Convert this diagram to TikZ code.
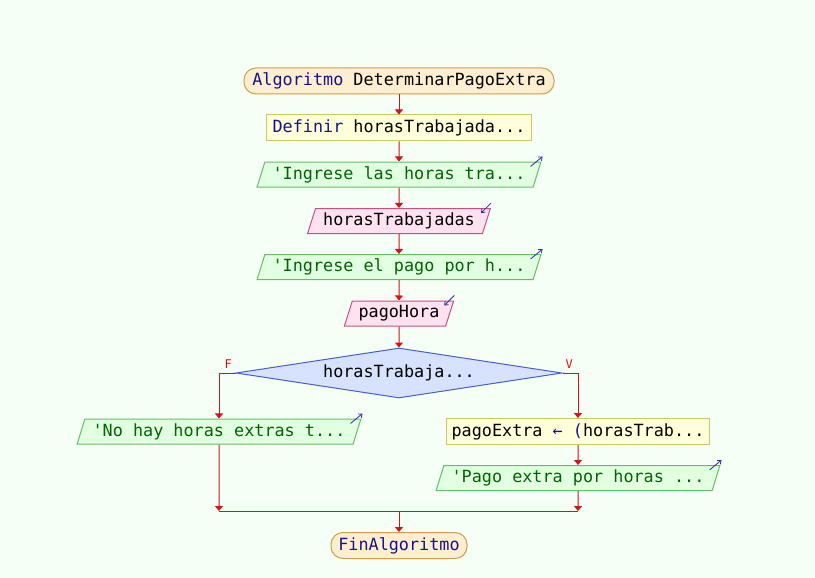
\documentclass[tikz,border=0pt]{standalone}
\usepackage{fontspec}
\setmonofont{DejaVu Sans Mono}
\usetikzlibrary{shapes.geometric,arrows.meta}
\definecolor{bgcol}{RGB}{246,255,246}
\definecolor{kwblue}{RGB}{20,20,140}
\definecolor{flowred}{RGB}{210,20,20}
\definecolor{termfill}{RGB}{255,238,208}
\definecolor{termdraw}{RGB}{208,158,80}
\definecolor{procfill}{RGB}{255,255,218}
\definecolor{procdraw}{RGB}{208,200,90}
\definecolor{outfill}{RGB}{226,255,226}
\definecolor{outdraw}{RGB}{100,190,100}
\definecolor{outtext}{RGB}{0,100,0}
\definecolor{infill}{RGB}{255,226,240}
\definecolor{indraw}{RGB}{200,80,130}
\definecolor{decfill}{RGB}{214,226,255}
\definecolor{decdraw}{RGB}{70,95,205}
\definecolor{iconblue}{RGB}{40,40,170}
\begin{document}
\begin{tikzpicture}[
x=1pt,y=-1pt,
every node/.style={font=\ttfamily\fontsize{16.8}{20}\selectfont,inner sep=2pt},
term/.style={rectangle,rounded corners=12pt,draw=termdraw,fill=termfill,text=kwblue,line width=1pt,minimum height=26},
procbox/.style={rectangle,draw=procdraw,fill=procfill,line width=1pt,minimum height=26},
outbox/.style={trapezium,trapezium left angle=70,trapezium right angle=110,trapezium stretches=true,
  draw=outdraw,fill=outfill,text=outtext,line width=1pt,minimum height=25,minimum width=284},
inbox/.style={trapezium,trapezium left angle=70,trapezium right angle=110,trapezium stretches=true,
  draw=indraw,fill=infill,line width=1pt,minimum height=25},
decision/.style={diamond,aspect=6.5,draw=decdraw,fill=decfill,line width=1pt,minimum width=326,minimum height=50,inner sep=0pt},
flow/.style={draw=flowred,line width=1pt,-{Triangle[width=8pt,length=5pt]}},
icon/.style={draw=iconblue,line width=0.8pt,-{Straight Barb[length=3pt,width=5pt]}},
branch/.style={font=\ttfamily\fontsize{12}{14}\selectfont,text=flowred,inner sep=1pt}
]
\fill[bgcol] (0,0) rectangle (815,578);
\useasboundingbox (0,0) rectangle (815,578);

\node[term,minimum width=310] (start) at (399,81) {Algoritmo \textcolor{black}{DeterminarPagoExtra}};
\node[procbox,minimum width=265] (def) at (399,128) {\textcolor{kwblue}{Definir} horasTrabajada...};
\node[outbox] (out1) at (399,174.5) {'Ingrese las horas tra...};
\node[inbox,minimum width=183] (in1) at (399,221) {horasTrabajadas};
\node[outbox] (out2) at (399,267) {'Ingrese el pago por h...};
\node[inbox,minimum width=110] (in2) at (399,313.5) {pagoHora};
\node[decision] (cond) at (399,373) {horasTrabaja...};
\node[outbox] (outno) at (219,431.5) {'No hay horas extras t...};
\node[procbox,minimum width=263] (assign) at (578,431.5) {pagoExtra \textcolor{kwblue}{← (}horasTrab...};
\node[outbox] (outyes) at (578,478) {'Pago extra por horas ...};
\node[term,minimum width=136] (fin) at (399,545.5) {FinAlgoritmo};

\coordinate (joinL) at (219,511);
\coordinate (joinM) at (399,511);
\coordinate (joinR) at (578,511);

% flechas de entrada y salida
\draw[icon] (out1.top right corner) ++(-11,5) -- ++(12,-10);
\draw[icon] (out2.top right corner) ++(-11,5) -- ++(12,-10);
\draw[icon] (outno.top right corner) ++(-11,5) -- ++(12,-10);
\draw[icon] (outyes.top right corner) ++(-11,5) -- ++(12,-10);
\draw[icon] (in1.top right corner) ++(0,-5) -- ++(-10,10);
\draw[icon] (in2.top right corner) ++(0,-5) -- ++(-10,10);

\draw[flow] (start) -- (def);
\draw[flow] (def) -- (out1);
\draw[flow] (out1) -- (in1);
\draw[flow] (in1) -- (out2);
\draw[flow] (out2) -- (in2);
\draw[flow] (in2) -- (cond);
\draw[flow] (cond.west) -| node[branch,pos=0.22,above=3pt] {F} (outno.north);
\draw[flow] (cond.east) -| node[branch,pos=0.22,above=3pt] {V} (assign.north);
\draw[flow] (assign) -- (outyes);
\draw[flow] (outno.south) -- (joinL);
\draw[flow] (outyes.south) -- (joinR);
\draw[draw=flowred,line width=1pt] (joinL) -- (joinR);
\draw[flow] (joinM) -- (fin);
\end{tikzpicture}
\end{document}
